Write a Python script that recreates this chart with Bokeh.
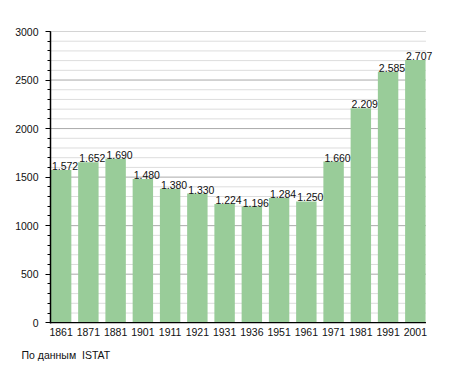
from bokeh.plotting import figure
from bokeh.models import Range1d, FixedTicker, ColumnDataSource, Title
from bokeh.embed import file_html
from bokeh.resources import INLINE

years = ["1861", "1871", "1881", "1901", "1911", "1921", "1931", "1936",
         "1951", "1961", "1971", "1981", "1991", "2001"]
population = [1572, 1652, 1690, 1480, 1380, 1330, 1224, 1196,
              1284, 1250, 1660, 2209, 2585, 2707]
y_ticks = [0, 500, 1000, 1500, 2000, 2500, 3000]
source_note = "По данным\u00a0 ISTAT"

FONT = "Liberation Sans"
BAR_W = 0.75
X0, X1 = -0.39, len(years) - 1 + 0.39   # extent of the drawn axis / grid
X_EXTRA = 0.24                           # room on the right for the last value label

idx = list(range(len(years)))
labels = ["{:,}".format(v).replace(",", ".") for v in population]
src = ColumnDataSource(dict(x=idx, top=population))

p = figure(width=455, height=373, output_backend="svg", toolbar_location=None,
           x_range=Range1d(X0, X1 + X_EXTRA), y_range=Range1d(-8, 3000),
           min_border_left=50, min_border_top=31, min_border_right=23, min_border_bottom=50)
p.outline_line_color = None
p.background_fill_color = "white"
p.border_fill_color = "white"

# grid lines (minor every 100, major every 500) limited to the bar area
minor = [v for v in range(100, 3001, 100) if v % 500 != 0]
p.segment(x0=[X0] * len(minor), x1=[X1] * len(minor), y0=minor, y1=minor,
          line_color="#dddddd", line_width=1)
major = [v for v in y_ticks if v > 0]
p.segment(x0=[X0] * len(major), x1=[X1] * len(major), y0=major, y1=major,
          line_color="#aaaaaa", line_width=1)

p.vbar(x="x", top="top", width=BAR_W, bottom=0, source=src,
       fill_color="#99cc99", line_color=None)

# x axis line
p.segment(x0=[X0], x1=[X1], y0=[0], y1=[0], line_color="black", line_width=1.5)

p.text(x=[i - BAR_W / 2 for i in idx], y=population, text=labels,
       text_font={"value": FONT}, text_font_size="10.5px", text_color="#111111",
       text_align="left", text_baseline="alphabetic", x_offset=1, y_offset=-4)

p.xaxis.ticker = FixedTicker(ticks=idx)
p.xaxis.major_label_overrides = {i: y for i, y in zip(idx, years)}
p.xaxis.major_tick_line_color = None
p.xaxis.major_tick_in = 0
p.xaxis.major_tick_out = 0
p.xaxis.minor_tick_line_color = None
p.xaxis.minor_tick_in = 0
p.xaxis.minor_tick_out = 0
p.xaxis.axis_line_color = None
p.xaxis.major_label_text_font = FONT
p.xaxis.major_label_text_font_size = "10.5px"
p.xaxis.major_label_text_color = "#111111"
p.xaxis.major_label_standoff = 4

p.yaxis.ticker = FixedTicker(ticks=y_ticks, minor_ticks=list(range(0, 3001, 100)))
p.yaxis.axis_line_color = "black"
p.yaxis.axis_line_width = 1.5
p.yaxis.major_tick_in = 0
p.yaxis.major_tick_out = 5
p.yaxis.minor_tick_in = 0
p.yaxis.minor_tick_out = 3
p.yaxis.major_label_text_font = FONT
p.yaxis.major_label_text_font_size = "10.5px"
p.yaxis.major_label_text_color = "#111111"
p.yaxis.major_label_standoff = 7

p.xgrid.grid_line_color = None
p.ygrid.grid_line_color = None

p.add_layout(Title(text=source_note, align="left", offset=-29, standoff=17,
                   vertical_align="bottom",
                   text_font=FONT, text_font_size="10.5px", text_font_style="normal",
                   text_color="#111111"), "below")

open("out.html", "w").write(file_html(p, INLINE))
